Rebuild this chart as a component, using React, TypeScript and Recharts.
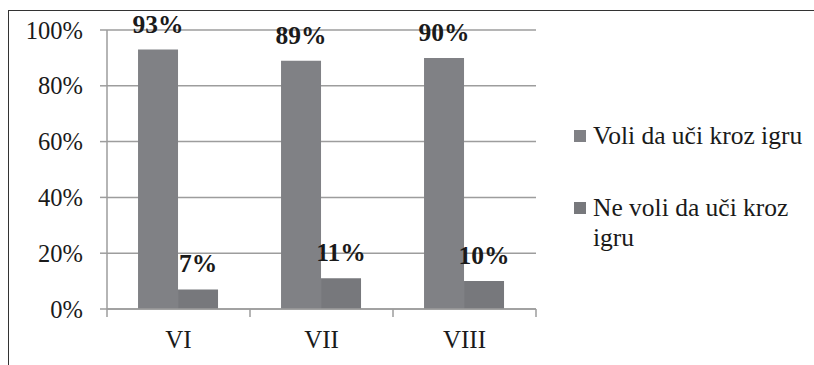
import { BarChart, Bar, XAxis, YAxis, CartesianGrid, LabelList } from "recharts"

const grades = ["VI", "VII", "VIII"]
const likes = [93, 89, 90]
const dislikes = [7, 11, 10]
const yTicks = [0, 20, 40, 60, 80, 100]

const series = [
  { key: "voli", name: "Voli da uči kroz igru", color: "#808185" },
  { key: "neVoli", name: "Ne voli da uči kroz igru", color: "#77787c" },
]

const data = grades.map((g, i) => ({ grade: g, voli: likes[i], neVoli: dislikes[i] }))

const font = "'Liberation Serif', 'Times New Roman', serif"
const gridColor = "#9d9d9d"
const textColor = "#1a1a1a"

// tick marks sit on the category edges, labels in the middle
function GradeTick(props: any) {
  const { x, y, payload } = props
  const half = payload.offset ?? 71.5
  const top = y - 8
  const isLast = payload.value === grades[grades.length - 1]
  return (
    <g>
      <line x1={x - half} x2={x - half} y1={top} y2={top + 8} stroke={gridColor} strokeWidth={1.5} />
      {isLast && (
        <line x1={x + half} x2={x + half} y1={top} y2={top + 8} stroke={gridColor} strokeWidth={1.5} />
      )}
      <text x={x} y={top + 39} textAnchor="middle" fill={textColor} fontFamily={font} fontSize={25}>
        {payload.value}
      </text>
    </g>
  )
}

export default function App() {
  return (
    <div style={{ position: "absolute", left: 0, top: 0, width: 814, height: 365, background: "#fff" }}>
      <div
        style={{
          position: "absolute",
          left: 8,
          top: 10,
          right: 0,
          bottom: 0,
          borderTop: "1.5px solid #333",
          borderLeft: "1.5px solid #333",
        }}
      />

      <BarChart
        width={814}
        height={365}
        data={data}
        margin={{ top: 30, right: 278, bottom: 16, left: 0 }}
        barCategoryGap="21.7%"
        barGap={0}
        style={{ position: "absolute", left: 0, top: 0 }}
      >
        <CartesianGrid vertical={false} stroke={gridColor} strokeWidth={1.5} />

        <XAxis
          dataKey="grade"
          height={40}
          axisLine={{ stroke: gridColor, strokeWidth: 1.5 }}
          tickLine={false}
          tickSize={8}
          tickMargin={0}
          tick={<GradeTick />}
          interval={0}
        />

        <YAxis
          width={107}
          domain={[0, 100]}
          ticks={yTicks}
          tickFormatter={(v) => `${v}%`}
          axisLine={{ stroke: gridColor, strokeWidth: 1.5 }}
          tickLine={{ stroke: gridColor, strokeWidth: 1.5 }}
          tickSize={7}
          tickMargin={17}
          tick={{ fill: textColor, fontFamily: font, fontSize: 24.5 }}
        />

        {series.map((s) => (
          <Bar key={s.key} dataKey={s.key} name={s.name} fill={s.color} isAnimationActive={false}>
            <LabelList
              dataKey={s.key}
              position="top"
              offset={17}
              formatter={(v: any) => `${v}%`}
              style={{ fill: textColor, fontFamily: font, fontSize: 25.5, fontWeight: "bold" }}
            />
          </Bar>
        ))}
      </BarChart>

      <div style={{ position: "absolute", left: 574, top: 0, fontFamily: font, fontSize: 25.5, color: textColor }}>
        {series.map((s, i) => (
          <div
            key={s.key}
            style={{
              position: "absolute",
              top: 121.3 + i * 72,
              left: 0,
              display: "flex",
              alignItems: "flex-start",
              lineHeight: "30px",
            }}
          >
            <span
              style={{
                display: "inline-block",
                width: 12,
                height: 12,
                marginTop: 8.8,
                marginRight: 7,
                background: s.color,
                flexShrink: 0,
              }}
            />
            <span style={{ width: 218 }}>{s.name}</span>
          </div>
        ))}
      </div>
    </div>
  )
}
